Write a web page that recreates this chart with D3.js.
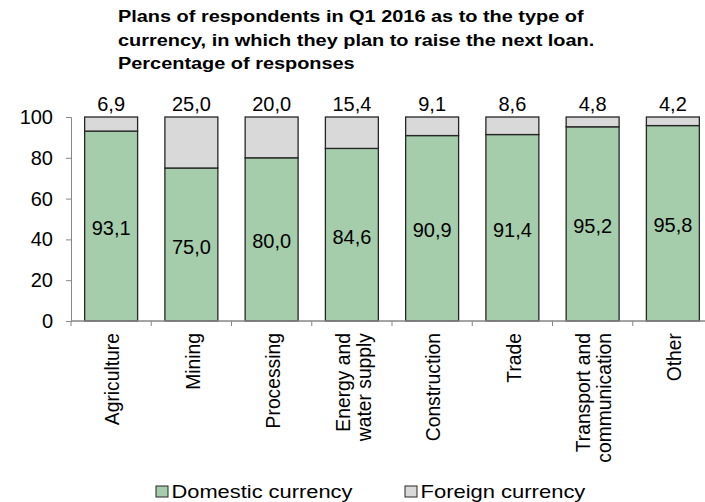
<!DOCTYPE html>
<html>
<head>
<meta charset="utf-8">
<script src="https://cdn.jsdelivr.net/npm/d3@7"></script>
<style>
  html, body { margin: 0; padding: 0; background: #fff; }
  svg { display: block; font-family: "Liberation Sans", Arial, sans-serif; }
</style>
</head>
<body>
<svg id="chart" width="705" height="502"></svg>
<script>
// Sectors (multi-line labels split on "\n")
const categories = [
  "Agriculture", "Mining", "Processing", "Energy and\nwater supply",
  "Construction", "Trade", "Transport and\ncommunication", "Other"
];
// Share of responses, %
const domestic = [93.1, 75.0, 80.0, 84.6, 90.9, 91.4, 95.2, 95.8];
const foreign  = [6.9, 25.0, 20.0, 15.4, 9.1, 8.6, 4.8, 4.2];
const seriesNames = ["Domestic currency", "Foreign currency"];
const yTicks = [0, 20, 40, 60, 80, 100];
const titleLines = [
  "Plans of respondents in Q1 2016 as to the type of",
  "currency, in which they plan to raise the next loan.",
  "Percentage of responses"
];

const colors = ["#a6cdab", "#d9d9d9"];
const edge = "#262626";
const axisColor = "#868686";
const fmt = v => v.toFixed(1).replace(".", ",");

const svg = d3.select("#chart");

const plot = { left: 71, right: 713, top: 117, bottom: 321 };

const rows = categories.map((c, i) => ({ cat: c, domestic: domestic[i], foreign: foreign[i] }));
const stack = d3.stack().keys(["domestic", "foreign"])(rows);

const x = d3.scaleBand()
  .domain(categories)
  .range([plot.left, plot.right])
  .paddingInner(0.34)
  .paddingOuter(0.17);

const y = d3.scaleLinear().domain([0, 100]).range([plot.bottom, plot.top]);

// Title (wide bold face: glyphs stretched horizontally)
const title = svg.append("g").attr("transform", "translate(118,0)");
title.selectAll("text")
  .data(titleLines)
  .join("text")
  .attr("x", 0)
  .attr("y", (d, i) => 22.5 + i * 23.5)
  .attr("font-size", 17)
  .attr("font-weight", "bold")
  .attr("fill", "#000")
  .text(d => d);
{
  const w = title.select("text").node().getComputedTextLength();
  const s = 466 / w;
  title.attr("transform", `translate(118,0) scale(${s},1)`);
}

// Bars
const layers = svg.append("g")
  .selectAll("g")
  .data(stack)
  .join("g")
  .attr("fill", (d, i) => colors[i]);

layers.selectAll("rect")
  .data(d => d)
  .join("rect")
  .attr("x", d => x(d.data.cat))
  .attr("width", x.bandwidth())
  .attr("y", d => y(d[1]))
  .attr("height", d => y(d[0]) - y(d[1]))
  .attr("stroke", edge)
  .attr("stroke-width", 1.3);

// Y axis
const yAxis = svg.append("g")
  .attr("transform", `translate(${plot.left},0)`)
  .call(d3.axisLeft(y).tickValues(yTicks).tickSize(5).tickPadding(13).tickFormat(d3.format("d")));
yAxis.select(".domain").attr("stroke", axisColor).attr("stroke-width", 1);
yAxis.selectAll(".tick line").attr("stroke", axisColor);
yAxis.selectAll(".tick text")
  .attr("font-size", 20)
  .attr("fill", "#000")
  .attr("font-family", "'Liberation Sans', Arial, sans-serif");

// X axis: category boundaries get the ticks
const xAxis = svg.append("g")
  .attr("transform", `translate(0,${plot.bottom})`);
xAxis.append("line")
  .attr("x1", plot.left).attr("x2", plot.right)
  .attr("stroke", axisColor).attr("stroke-width", 1.5);
xAxis.selectAll(".sep")
  .data(d3.range(categories.length + 1))
  .join("line")
  .attr("class", "sep")
  .attr("x1", i => plot.left + i * x.step())
  .attr("x2", i => plot.left + i * x.step())
  .attr("y1", 0).attr("y2", 5)
  .attr("stroke", axisColor);

// Category labels, rotated
const catLabels = svg.append("g")
  .selectAll("text")
  .data(categories)
  .join("text")
  .attr("transform", d => `translate(${x(d) + x.bandwidth() / 2 + 1.5},${plot.bottom + 12}) rotate(-90)`)
  .attr("text-anchor", "end")
  .attr("font-size", 19.3)
  .attr("fill", "#000");
catLabels.each(function (d) {
  const lines = d.split("\n");
  const t = d3.select(this);
  const lh = 21;
  lines.forEach((ln, j) => {
    t.append("tspan")
      .attr("x", 0)
      .attr("y", (j - (lines.length - 1) / 2) * lh)
      .attr("dy", "0.35em")
      .text(ln);
  });
});

// Value labels: domestic inside the bar, foreign above the bar top
svg.append("g")
  .selectAll("text")
  .data(stack[0])
  .join("text")
  .attr("x", d => x(d.data.cat) + x.bandwidth() / 2)
  .attr("y", d => (y(d[0]) + y(d[1])) / 2 + 2)
  .attr("dy", "0.35em")
  .attr("text-anchor", "middle")
  .attr("font-size", 20)
  .attr("fill", "#000")
  .text(d => fmt(d.data.domestic));

svg.append("g")
  .selectAll("text")
  .data(stack[1])
  .join("text")
  .attr("x", d => x(d.data.cat) + x.bandwidth() / 2)
  .attr("y", d => y(d[1]) - 13)
  .attr("dy", "0.35em")
  .attr("text-anchor", "middle")
  .attr("font-size", 20)
  .attr("fill", "#000")
  .text(d => fmt(d.data.foreign));

// Legend
const legendX = [156, 405];
const legend = svg.append("g")
  .selectAll("g")
  .data(seriesNames)
  .join("g")
  .attr("transform", (d, i) => `translate(${legendX[i]},486)`);
legend.append("rect")
  .attr("width", 12).attr("height", 11)
  .attr("fill", (d, i) => colors[i])
  .attr("stroke", edge).attr("stroke-width", 1);
legend.append("text")
  .attr("x", 15.5)
  .attr("y", 11.5)
  .attr("font-size", 18)
  .attr("fill", "#000")
  .text(d => d);
legend.each(function () {
  const t = d3.select(this).select("text");
  const w = t.node().getComputedTextLength();
  const target = t.text() === seriesNames[0] ? 181 : 165;
  const s = target / w;
  t.attr("x", 15.5 / s).attr("transform", `scale(${s},1)`);
});
</script>
</body>
</html>
